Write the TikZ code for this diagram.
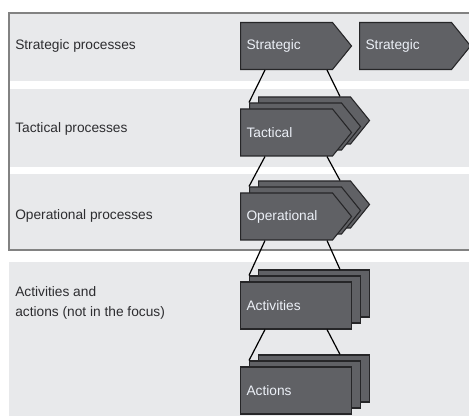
\documentclass[tikz,border=0pt]{standalone}
\usepackage{fontspec}
\setmainfont{Liberation Sans}
\usetikzlibrary{shapes.symbols,calc}

\definecolor{bandgray}{RGB}{232,233,235}
\definecolor{boxgray}{RGB}{96,97,101}
\definecolor{boxedge}{RGB}{38,38,40}
\definecolor{framegray}{RGB}{130,130,130}
\definecolor{labelgray}{RGB}{45,45,48}
\definecolor{boxtext}{RGB}{236,240,247}

\tikzset{
  band/.style={fill=bandgray, draw=none},
  lvl/.style={anchor=west, text=labelgray, font=\fontsize{10.3}{15}\selectfont, inner sep=0pt, align=left},
  box/.style={anchor=west, draw=boxedge, fill=boxgray, line width=0.8pt, text=boxtext,
    font=\fontsize{10.3}{12}\selectfont, minimum height=35.25pt, inner xsep=4.5pt, inner ysep=0pt, align=left},
  proc/.style={box, shape=signal, signal to=east, signal pointer angle=102, text width=60pt},
  act/.style={box, shape=rectangle, text width=74.25pt},
  link/.style={draw=black, line width=0.9pt}
}

\begin{document}
\begin{tikzpicture}[x=0.75pt,y=-0.75pt]
\useasboundingbox (0,0) rectangle (469,416);

% Bands
\fill[band] (9,13) rectangle (469,81);
\fill[band] (9,89) rectangle (469,167);
\fill[band] (9,174) rectangle (469,250);
\fill[band] (9,262) rectangle (469,416);

% Frame round the three process levels
\draw[framegray, line width=1.2pt] (469,13) -- (9,13) -- (9,250) -- (469,250);

% Level labels
\node[lvl] (lstr) at (15,46) {Strategic processes};
\node[lvl] (ltac) at (15,129) {Tactical processes};
\node[lvl] (lope) at (15,216) {Operational processes};
\node[lvl] (lact) at (15,303) {Activities and\\actions (not in the focus)};

% Strategic
\node[proc] (str) at (240,46) {Strategic};
\node[proc] (strb) at (359,46) {Strategic};

% Tactical stack
\node[proc] (tac3) at (258,120.5) {};
\node[proc] (tac2) at (249,126.5) {};
\node[proc] (tac) at (240,132.5) {Tactical};

% Operational stack
\node[proc] (ope3) at (258,204.5) {};
\node[proc] (ope2) at (249,210.5) {};
\node[proc] (ope) at (240,216.5) {Operational};

% Activities stack
\node[act] (act3) at (258,293.5) {};
\node[act] (act2) at (249,299.5) {};
\node[act] (act) at (240,305.5) {Activities};

% Actions stack
\node[act] (acn3) at (258,378.5) {};
\node[act] (acn2) at (249,384.5) {};
\node[act] (acn) at (240,390.5) {Actions};

% Links between levels
\draw[link] ($(str.south west)+(25,0)$) -- (tac2.north west);
\draw[link] ($(str.south west)+(87,0)$) -- ($(tac3.north west)+(82,0)$);
\draw[link] ($(tac.south west)+(25,0)$) -- (ope2.north west);
\draw[link] ($(tac.south west)+(87,0)$) -- ($(ope3.north west)+(82,0)$);
\draw[link] ($(ope.south west)+(25,0)$) -- (act2.north west);
\draw[link] ($(ope.south west)+(87,0)$) -- ($(act3.north west)+(82,0)$);
\draw[link] ($(act.south west)+(25,0)$) -- (acn2.north west);
\draw[link] ($(act.south west)+(87,0)$) -- ($(acn3.north west)+(82,0)$);
\end{tikzpicture}
\end{document}
